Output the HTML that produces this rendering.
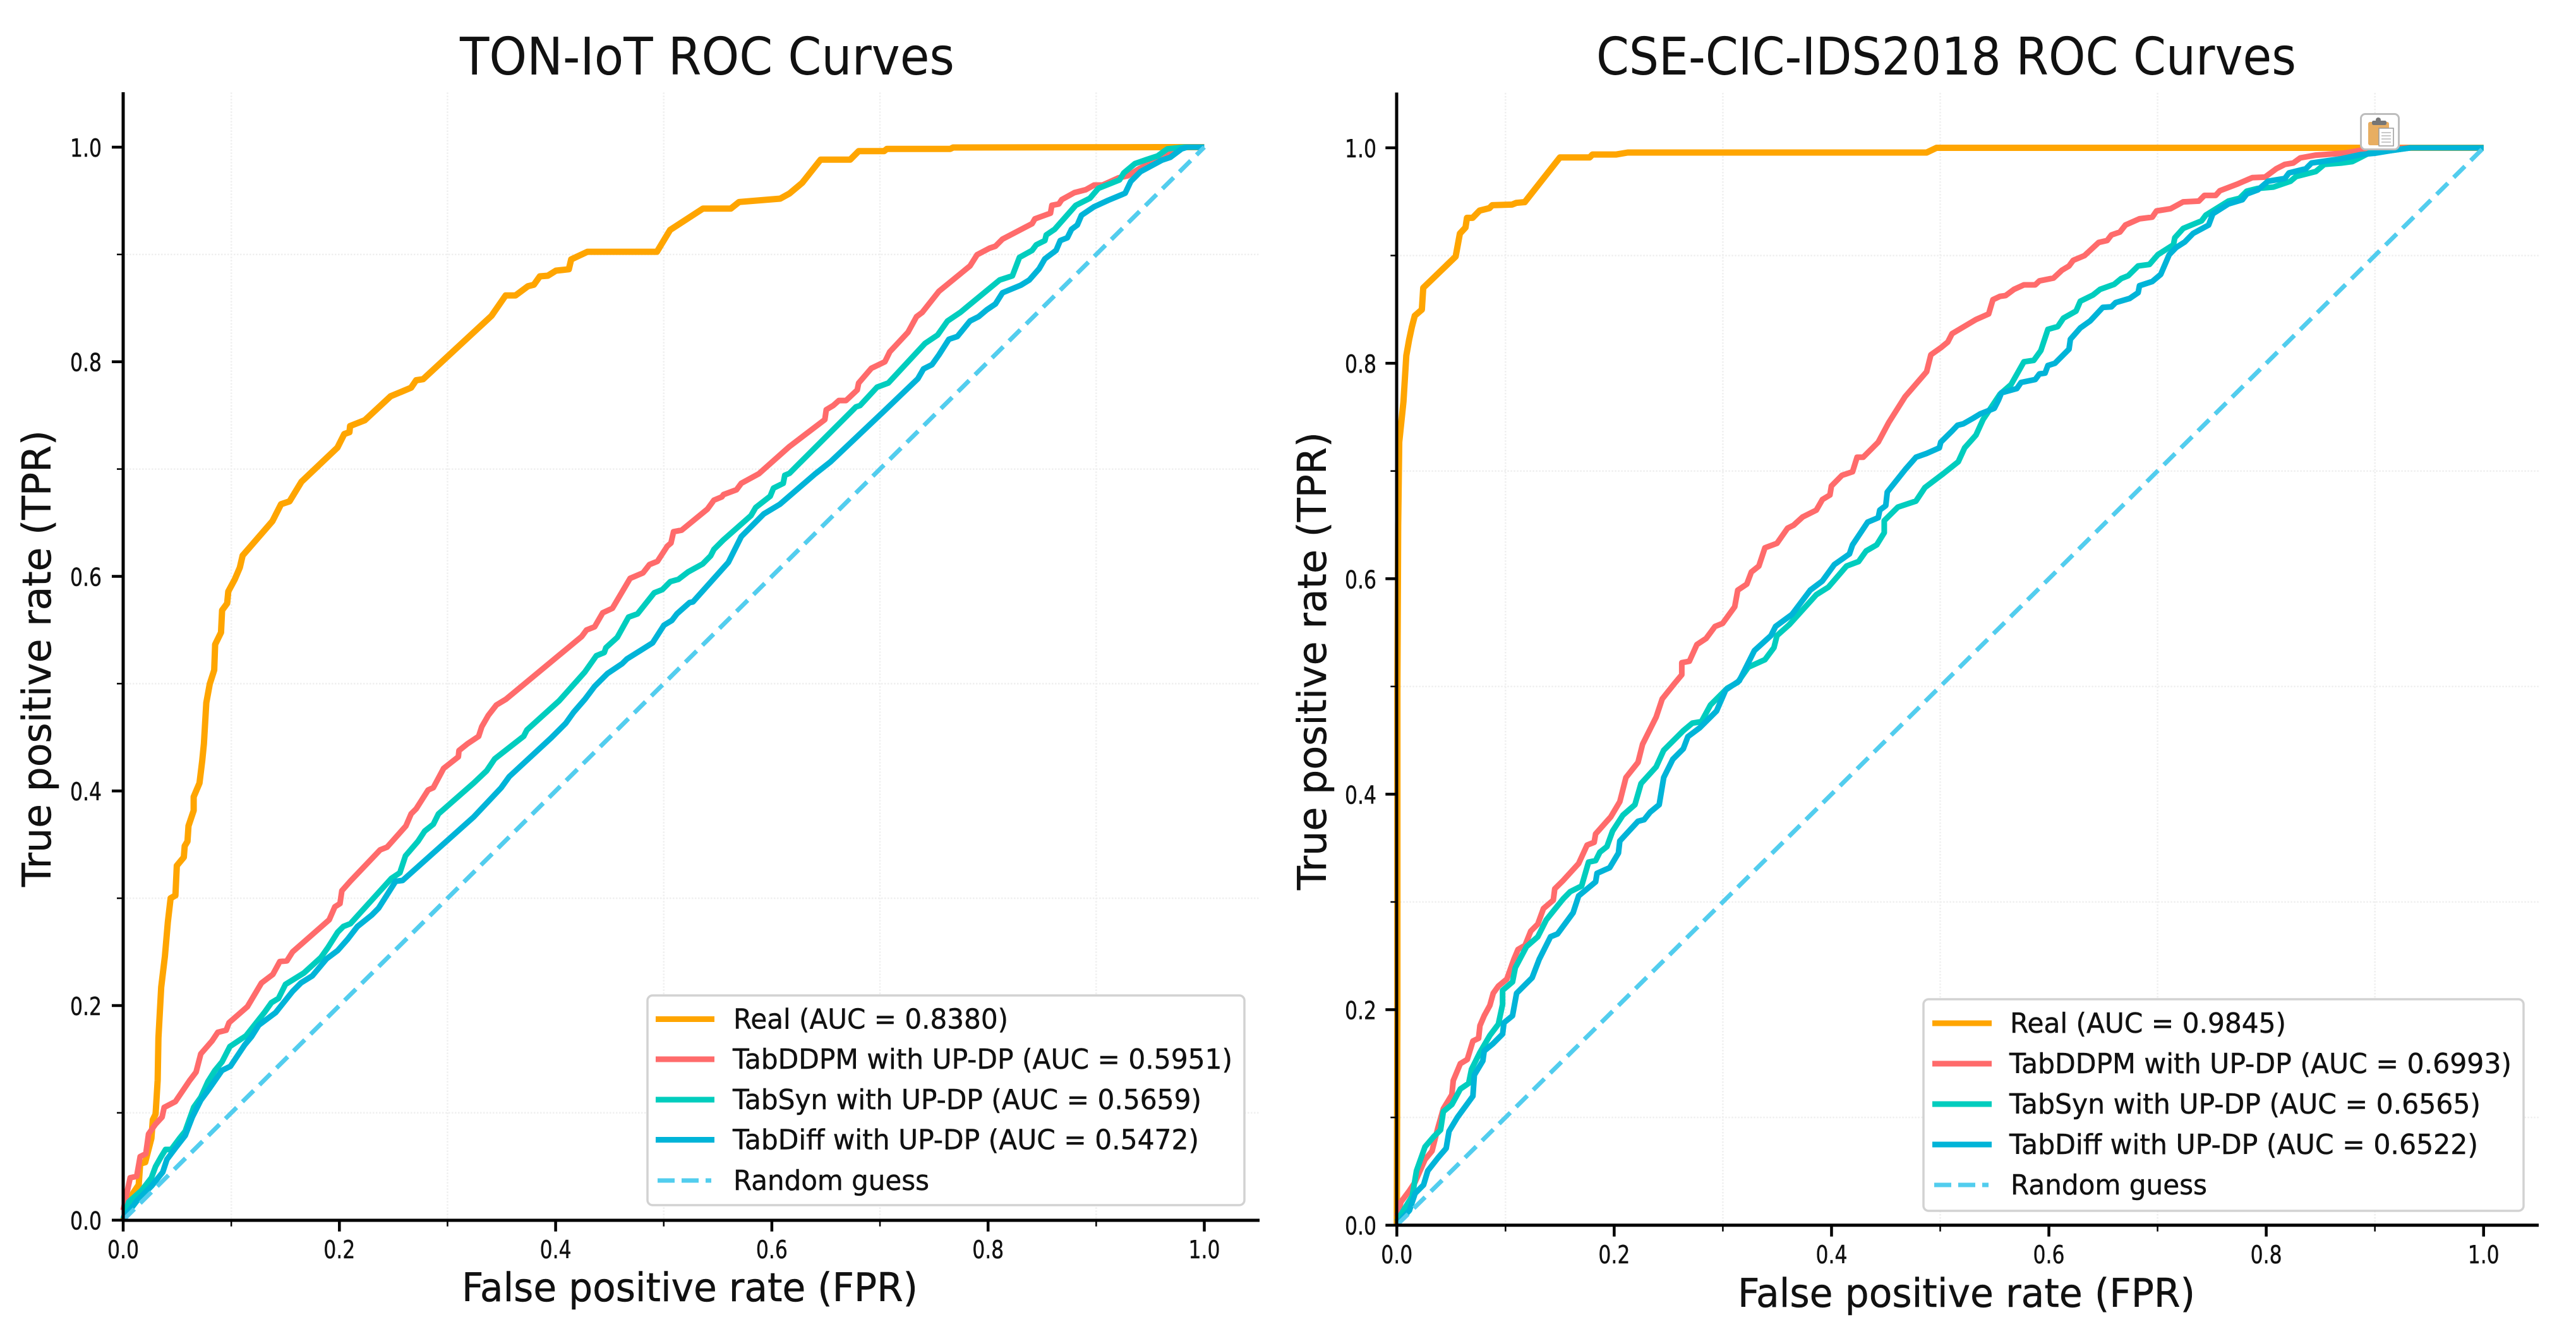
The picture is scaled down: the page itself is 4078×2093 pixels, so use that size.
<!DOCTYPE html>
<html lang="en">
<head>
<meta charset="utf-8">
<title>ROC Curves</title>
<style>
html,body{margin:0;padding:0;background:#fff;width:4078px;height:2093px;overflow:hidden}
svg{display:block}
text{font-family:"DejaVu Sans","Liberation Sans",sans-serif;fill:#111}
.title{font-size:82px}
.axis-label{font-size:62px;stroke:#111;stroke-width:.5px}
.tick-label{font-size:39px;stroke:#111;stroke-width:.5px}
.legend-text{font-size:44px;stroke:#111;stroke-width:.5px}
</style>
</head>
<body>
<svg id="chart" xmlns="http://www.w3.org/2000/svg" width="4078" height="2093" viewBox="0 0 4078 2093">
  <rect width="4078" height="2093" fill="#fff"/>

  <g id="ton-panel">
    <g id="ton-grid"></g>
    <g id="ton-curves"></g>
    <g id="ton-ticks"></g>
    <line x1="195" y1="146" x2="195" y2="1934" stroke="#000" stroke-width="5"/>
    <line x1="193" y1="1932" x2="1994" y2="1932" stroke="#000" stroke-width="5"/>
    <text class="title" x="728" y="118" textLength="783" lengthAdjust="spacingAndGlyphs">TON-IoT ROC Curves</text>
    <text class="axis-label" x="731" y="2060" textLength="722" lengthAdjust="spacingAndGlyphs">False positive rate (FPR)</text>
    <text class="axis-label" transform="translate(80 1404) rotate(-90)" x="0" y="0" textLength="723" lengthAdjust="spacingAndGlyphs">True positive rate (TPR)</text>
    <g>
      <rect x="1025" y="1576" width="945" height="332" rx="8" ry="8" fill="#fff" stroke="#d2d2d2" stroke-width="3.5"/>
      <g>
        <line x1="1038" y1="1613.5" x2="1131" y2="1613.5" stroke="#FFA500" stroke-width="9"/>
        <text class="legend-text" x="1161" y="1628.5" textLength="435" lengthAdjust="spacingAndGlyphs">Real (AUC = 0.8380)</text>
      </g>
      <g>
        <line x1="1038" y1="1677" x2="1131" y2="1677" stroke="#FF6B6B" stroke-width="9"/>
        <text class="legend-text" x="1160" y="1692" textLength="791" lengthAdjust="spacingAndGlyphs">TabDDPM with UP-DP (AUC = 0.5951)</text>
      </g>
      <g>
        <line x1="1038" y1="1741" x2="1131" y2="1741" stroke="#00CDBE" stroke-width="9"/>
        <text class="legend-text" x="1160" y="1756" textLength="742" lengthAdjust="spacingAndGlyphs">TabSyn with UP-DP (AUC = 0.5659)</text>
      </g>
      <g>
        <line x1="1038" y1="1804.5" x2="1131" y2="1804.5" stroke="#00B4D8" stroke-width="9"/>
        <text class="legend-text" x="1160" y="1819.5" textLength="738" lengthAdjust="spacingAndGlyphs">TabDiff with UP-DP (AUC = 0.5472)</text>
      </g>
      <g>
        <line x1="1041" y1="1869" x2="1126" y2="1869" stroke="#52CDEE" stroke-width="7" stroke-dasharray="27 11"/>
        <text class="legend-text" x="1161" y="1884" textLength="310" lengthAdjust="spacingAndGlyphs">Random guess</text>
      </g>
    </g>
  </g>

  <g id="cse-panel">
    <g id="cse-grid"></g>
    <g id="cse-curves"></g>
    <g id="cse-ticks"></g>
    <line x1="2211" y1="146.5" x2="2211" y2="1942" stroke="#000" stroke-width="5"/>
    <line x1="2209" y1="1939.7" x2="4019" y2="1939.7" stroke="#000" stroke-width="5"/>
    <text class="title" x="2527" y="118" textLength="1108" lengthAdjust="spacingAndGlyphs">CSE-CIC-IDS2018 ROC Curves</text>
    <text class="axis-label" x="2751" y="2069" textLength="724" lengthAdjust="spacingAndGlyphs">False positive rate (FPR)</text>
    <text class="axis-label" transform="translate(2099 1409) rotate(-90)" x="0" y="0" textLength="725" lengthAdjust="spacingAndGlyphs">True positive rate (TPR)</text>
    <g>
      <rect x="3045" y="1582" width="950" height="335" rx="8" ry="8" fill="#fff" stroke="#d2d2d2" stroke-width="3.5"/>
      <g>
        <line x1="3059" y1="1620" x2="3153" y2="1620" stroke="#FFA500" stroke-width="9"/>
        <text class="legend-text" x="3182" y="1635" textLength="437" lengthAdjust="spacingAndGlyphs">Real (AUC = 0.9845)</text>
      </g>
      <g>
        <line x1="3059" y1="1684" x2="3153" y2="1684" stroke="#FF6B6B" stroke-width="9"/>
        <text class="legend-text" x="3181" y="1699" textLength="795" lengthAdjust="spacingAndGlyphs">TabDDPM with UP-DP (AUC = 0.6993)</text>
      </g>
      <g>
        <line x1="3059" y1="1748" x2="3153" y2="1748" stroke="#00CDBE" stroke-width="9"/>
        <text class="legend-text" x="3181" y="1763" textLength="746" lengthAdjust="spacingAndGlyphs">TabSyn with UP-DP (AUC = 0.6565)</text>
      </g>
      <g>
        <line x1="3059" y1="1812" x2="3153" y2="1812" stroke="#00B4D8" stroke-width="9"/>
        <text class="legend-text" x="3181" y="1827" textLength="742" lengthAdjust="spacingAndGlyphs">TabDiff with UP-DP (AUC = 0.6522)</text>
      </g>
      <g>
        <line x1="3062" y1="1876" x2="3148" y2="1876" stroke="#52CDEE" stroke-width="7" stroke-dasharray="27 11"/>
        <text class="legend-text" x="3183" y="1891" textLength="311" lengthAdjust="spacingAndGlyphs">Random guess</text>
      </g>
    </g>
  </g>

  <g>
    <rect x="3737.5" y="180.5" width="60" height="56" rx="7" ry="7" fill="#fff" stroke="#bdbdbd" stroke-width="3"/>
    <rect x="3749" y="193" width="33" height="37" rx="3" fill="#E8AE62"/>
    <rect x="3755" y="191" width="23" height="7" rx="2.5" fill="#767676"/>
    <circle cx="3765" cy="190" r="4" fill="#767676"/>
    <rect x="3766" y="203" width="23" height="28" fill="#fff" stroke="#9a9a9a" stroke-width="1.5"/>
    <line x1="3770" y1="210" x2="3785" y2="210" stroke="#b5b5b5" stroke-width="1.5"/>
    <line x1="3770" y1="215" x2="3785" y2="215" stroke="#b5b5b5" stroke-width="1.5"/>
    <line x1="3770" y1="220" x2="3785" y2="220" stroke="#b5b5b5" stroke-width="1.5"/>
    <line x1="3770" y1="225" x2="3785" y2="225" stroke="#b5b5b5" stroke-width="1.5"/>
  </g>
</svg>

<script>
const majorTicks = [0, 0.2, 0.4, 0.6, 0.8, 1.0];
const majorTickLabels = ['0.0', '0.2', '0.4', '0.6', '0.8', '1.0'];
const minorTicks = [0.1, 0.3, 0.5, 0.7, 0.9];
const axisLimit = 1.051;

const tonReal = [[0,0],[.0091,.025],[.0144,.0329],[.0157,.0526],[.0204,.0539],[.0261,.0763],[.0274,.0934],[.03,.0987],[.0319,.1303],[.0326,.1697],[.0352,.2171],[.0386,.2461],[.0413,.2776],[.0439,.3],[.0483,.3026],[.0496,.3303],[.0561,.3382],[.0569,.3487],[.0595,.353],[.0604,.3674],[.0652,.3817],[.0652,.3945],[.0706,.4073],[.0731,.428],[.0747,.444],[.0769,.4822],[.0801,.4998],[.0842,.5126],[.0851,.5365],[.0905,.5477],[.0915,.5684],[.0962,.5748],[.0972,.5859],[.1032,.5971],[.1079,.6083],[.1105,.6194],[.138,.6514],[.146,.6673],[.1539,.6699],[.1649,.6881],[.1982,.72],[.2045,.7327],[.2093,.7343],[.2099,.7401],[.2235,.7455],[.2473,.7678],[.2663,.7758],[.271,.7828],[.2774,.7838],[.3407,.8428],[.3537,.8618],[.3629,.8618],[.3743,.8704],[.3799,.8718],[.3854,.8796],[.3928,.8802],[.4003,.8849],[.4122,.8862],[.4144,.8954],[.4294,.9025],[.4937,.9025],[.5059,.9228],[.5363,.9428],[.5621,.9428],[.5697,.9489],[.6077,.952],[.6164,.9569],[.6281,.9668],[.6451,.9884],[.6725,.9884],[.6803,.9963],[.7038,.9963],[.7064,.9984],[.7651,.9984],[.7677,.9997],[.958,1],[1,1]];

const tonTabDDPM = [[0,.0092],[.0065,.0395],[.0125,.0408],[.0157,.0592],[.0209,.0618],[.0235,.0803],[.03,.0895],[.036,.096],[.0379,.105],[.0483,.1105],[.0614,.13],[.0674,.138],[.0718,.155],[.0822,.167],[.0875,.175],[.0953,.177],[.0979,.184],[.1149,.199],[.1279,.221],[.1384,.229],[.1449,.241],[.1514,.2416],[.1567,.25],[.1906,.28],[.1958,.292],[.2005,.295],[.2023,.307],[.2102,.316],[.2376,.345],[.2441,.3476],[.2615,.3674],[.2663,.3786],[.271,.3833],[.2821,.4009],[.2869,.4031],[.2964,.421],[.31,.4318],[.3106,.4376],[.3185,.444],[.3288,.4509],[.3317,.4599],[.3377,.4704],[.3452,.4801],[.3541,.4855],[.4242,.544],[.4286,.55],[.4361,.553],[.4435,.566],[.4525,.5702],[.4689,.5981],[.4808,.6032],[.4868,.611],[.4942,.614],[.5032,.628],[.5067,.6311],[.5091,.6416],[.5166,.6431],[.5404,.6627],[.5464,.671],[.5538,.6741],[.5553,.6762],[.5673,.6807],[.5717,.6867],[.5881,.6957],[.6164,.7211],[.649,.7461],[.6503,.7553],[.6568,.7592],[.662,.7639],[.6686,.7639],[.679,.7737],[.6803,.7802],[.692,.7939],[.7046,.8],[.709,.8092],[.726,.8276],[.7338,.842],[.739,.8459],[.7546,.8657],[.7833,.8893],[.7899,.8998],[.8016,.9059],[.8068,.9077],[.8133,.9143],[.8407,.9287],[.8433,.9332],[.8577,.9385],[.859,.9458],[.8655,.9471],[.8681,.9511],[.8798,.9576],[.8903,.9603],[.8981,.9647],[.9059,.9647],[.9203,.9713],[.9294,.9734],[.9398,.98],[.9659,.9931],[.9816,1],[1,1]];

const tonTabSyn = [[0,.0013],[.0052,.0171],[.017,.0276],[.0261,.0395],[.03,.05],[.0352,.0592],[.0392,.0658],[.0444,.0658],[.0522,.0763],[.0574,.0829],[.0653,.1053],[.0718,.1145],[.0783,.1289],[.0849,.1395],[.0914,.1474],[.0987,.1618],[.1136,.1718],[.1305,.1934],[.1371,.2026],[.1436,.2066],[.1501,.2197],[.1671,.2303],[.1828,.2447],[.1893,.2539],[.1984,.2684],[.2037,.2737],[.2102,.2763],[.248,.3184],[.2559,.3237],[.2611,.3395],[.2726,.353],[.2789,.3626],[.2869,.369],[.2916,.3786],[.3243,.4074],[.3362,.4188],[.3437,.4299],[.3705,.451],[.3735,.4569],[.4033,.484],[.4271,.511],[.4376,.526],[.445,.529],[.4465,.5335],[.457,.5431],[.4674,.562],[.4757,.565],[.4912,.5846],[.4987,.5876],[.5061,.5951],[.5136,.5972],[.5225,.6041],[.536,.6116],[.5434,.6191],[.5464,.6251],[.5553,.6341],[.5807,.6567],[.5851,.6642],[.5985,.6747],[.6015,.6822],[.6105,.6867],[.612,.6942],[.6164,.6961],[.6255,.7053],[.666,.7461],[.6777,.7579],[.6816,.7592],[.6973,.7763],[.7077,.7802],[.7416,.817],[.7533,.8249],[.7625,.838],[.7742,.8459],[.8107,.8762],[.8225,.8801],[.829,.8972],[.8407,.9038],[.8446,.909],[.8525,.913],[.8538,.9182],[.8616,.9235],[.8811,.9458],[.8942,.9524],[.902,.9616],[.9216,.9695],[.9255,.976],[.9359,.9847],[.9464,.9884],[.9568,.9918],[.9659,.9984],[.9816,1],[1,1]];

const tonTabDiff = [[0,.0013],[.0131,.0184],[.0261,.0316],[.0366,.0447],[.0405,.0566],[.0483,.0671],[.0574,.0789],[.064,.0961],[.0718,.1118],[.0796,.1224],[.0914,.1395],[.0992,.1434],[.1123,.1632],[.1188,.1711],[.1253,.1816],[.141,.1934],[.1567,.2132],[.1645,.2211],[.1749,.2276],[.188,.2434],[.1984,.2513],[.2076,.2618],[.2167,.2737],[.2298,.2842],[.2363,.2908],[.252,.3158],[.2585,.3166],[.3243,.3758],[.3496,.4029],[.3571,.4134],[.3958,.4494],[.4093,.463],[.4167,.4734],[.4271,.4855],[.4361,.4975],[.448,.5095],[.4614,.5185],[.4659,.523],[.4897,.538],[.5002,.5545],[.5076,.559],[.5121,.565],[.524,.5756],[.527,.5762],[.5598,.6131],[.5717,.6371],[.5866,.6522],[.5926,.6582],[.6075,.6672],[.6403,.6957],[.6542,.7067],[.7051,.7553],[.735,.7842],[.7403,.7934],[.7481,.7973],[.7546,.8065],[.7638,.821],[.7716,.8236],[.7833,.838],[.7912,.842],[.799,.8486],[.8068,.8538],[.8133,.8643],[.8303,.8714],[.8381,.8762],[.8472,.8867],[.8525,.8959],[.8629,.9038],[.8668,.913],[.8733,.9156],[.8772,.9235],[.8825,.9274],[.8864,.9366],[.8981,.9445],[.9111,.9505],[.9268,.9571],[.932,.9681],[.9411,.9773],[.9607,.9879],[.9685,.9905],[.979,.9984],[.9842,1],[1,1]];

const tonRandom = [[0,0],[1,1]];

const cseReal = [[0,0],[.0005,.2],[.0005,.5],[.0012,.65],[.0022,.7268],[.0061,.7645],[.0087,.8071],[.0113,.8217],[.0139,.834],[.0165,.8441],[.023,.8498],[.0243,.87],[.0541,.8991],[.058,.9204],[.0632,.926],[.0645,.935],[.0697,.935],[.0762,.9417],[.0852,.944],[.0878,.9467],[.106,.9473],[.1099,.9489],[.1177,.9496],[.1501,.9911],[.1774,.9911],[.18,.9938],[.202,.9938],[.2124,.9956],[.4875,.9956],[.4966,1],[1,1]];

const cseTabDDPM = [[0,.0086],[.0039,.0217],[.0116,.0321],[.0168,.04],[.0259,.0609],[.0324,.0688],[.0376,.0897],[.0428,.108],[.0506,.1211],[.0519,.1342],[.0584,.1499],[.0648,.1538],[.07,.1709],[.0752,.1735],[.0765,.1852],[.0804,.1944],[.0856,.204],[.0887,.2153],[.0934,.2219],[.1012,.2284],[.1077,.2468],[.1115,.2559],[.118,.2598],[.1232,.2729],[.1297,.2795],[.1349,.2939],[.144,.3017],[.1453,.3122],[.1531,.32],[.1673,.3357],[.1751,.3528],[.1816,.3554],[.1829,.3632],[.1969,.379],[.2052,.3931],[.2108,.4155],[.2219,.4296],[.2261,.4464],[.2386,.4716],[.2442,.4884],[.2553,.5025],[.2622,.5109],[.2622,.5221],[.2692,.5235],[.2761,.5389],[.2845,.5445],[.2928,.5557],[.2998,.5586],[.3109,.574],[.3137,.5894],[.322,.595],[.3262,.6062],[.3331,.6118],[.3387,.6287],[.3498,.6329],[.3595,.6469],[.3651,.6497],[.3734,.6573],[.386,.6637],[.3916,.6735],[.3985,.6777],[.3999,.6861],[.4096,.696],[.4193,.6993],[.4235,.7128],[.4291,.7128],[.443,.7268],[.4526,.745],[.4677,.769],[.4875,.7922],[.4914,.8079],[.5005,.8144],[.507,.8197],[.5109,.8275],[.5264,.8367],[.5329,.8406],[.5446,.8458],[.5485,.859],[.555,.8621],[.5602,.8629],[.5679,.8686],[.577,.8728],[.5874,.8728],[.5913,.8765],[.6043,.8791],[.612,.8864],[.6185,.8903],[.6224,.8956],[.6328,.9],[.6458,.9121],[.6536,.914],[.6575,.9191],[.6653,.9218],[.6704,.9283],[.6834,.9341],[.6951,.9356],[.699,.9414],[.712,.9435],[.7236,.9498],[.7379,.9505],[.7431,.9558],[.7535,.9558],[.7574,.9602],[.773,.9662],[.7872,.9723],[.7989,.9728],[.8093,.9806],[.8171,.9846],[.8248,.9859],[.8313,.9906],[.8456,.9932],[.8715,.995],[.8871,.9977],[.8944,.999],[.915,.9995],[.93,1],[1,1]];

const cseTabSyn = [[0,.0034],[.0077,.0164],[.0142,.0269],[.0181,.0505],[.0259,.0727],[.0337,.0819],[.0402,.0884],[.0428,.1054],[.0506,.112],[.0584,.1264],[.0661,.1316],[.0687,.1447],[.0765,.1604],[.0856,.1761],[.0934,.1866],[.0973,.2049],[.0973,.218],[.1064,.2258],[.109,.2389],[.1193,.2585],[.1297,.2677],[.1375,.2834],[.1531,.303],[.1596,.3096],[.17,.3148],[.1764,.337],[.1829,.3384],[.1868,.3462],[.1933,.3514],[.1985,.3658],[.208,.3805],[.2191,.3903],[.2247,.4099],[.2386,.4254],[.2456,.4408],[.2636,.459],[.272,.466],[.2803,.4674],[.2886,.4828],[.304,.4983],[.3137,.5039],[.3234,.5179],[.3387,.5249],[.347,.5361],[.3498,.5473],[.3609,.5572],[.386,.5852],[.3971,.5922],[.4138,.6118],[.4249,.616],[.4318,.6258],[.4416,.6315],[.4485,.6427],[.4485,.6539],[.461,.6665],[.4777,.6721],[.486,.6847],[.5027,.6974],[.5166,.7086],[.5225,.7215],[.5329,.7333],[.5394,.7477],[.555,.7713],[.5653,.7804],[.577,.8014],[.5861,.8027],[.5926,.8118],[.5991,.8315],[.6082,.8341],[.6134,.8419],[.625,.8485],[.6289,.8576],[.6406,.8634],[.6471,.8686],[.6601,.8733],[.6665,.8786],[.673,.8812],[.6821,.8903],[.6925,.8917],[.7003,.9008],[.7146,.91],[.7159,.9165],[.7236,.9252],[.7405,.9322],[.7444,.9375],[.7651,.9505],[.7755,.9532],[.782,.9597],[.7924,.9623],[.8067,.9636],[.8222,.9689],[.8274,.9733],[.8456,.978],[.8534,.9846],[.8689,.9859],[.8793,.9872],[.8944,.995],[.915,.9975],[.933,1],[1,1]];

const cseTabDiff = [[0,.0007],[.0116,.0138],[.0168,.0295],[.0246,.0374],[.0285,.0505],[.0376,.0622],[.0454,.0714],[.048,.0871],[.0558,.1002],[.07,.1198],[.0713,.1394],[.0791,.1525],[.0804,.1617],[.0882,.1682],[.0973,.1774],[.0986,.1879],[.1064,.1944],[.1102,.2153],[.1245,.2297],[.131,.2468],[.1362,.2572],[.1414,.2677],[.1479,.2703],[.1622,.2899],[.1673,.3056],[.1829,.3187],[.1842,.3266],[.1959,.3318],[.2039,.3454],[.2052,.3566],[.2219,.3749],[.2275,.3763],[.233,.3833],[.2414,.3903],[.2456,.4155],[.2539,.4324],[.2636,.4422],[.2678,.4534],[.2789,.4618],[.2942,.4772],[.3026,.4968],[.3151,.5053],[.329,.5333],[.3443,.5473],[.3485,.5557],[.3637,.567],[.3804,.5894],[.3915,.5978],[.4026,.6132],[.4165,.623],[.4193,.6315],[.4332,.6525],[.443,.6567],[.4444,.6637],[.4499,.6679],[.4513,.6805],[.468,.7016],[.4777,.7128],[.4875,.7163],[.4992,.7215],[.5005,.7268],[.5109,.7372],[.516,.7425],[.5212,.7438],[.5303,.749],[.5368,.753],[.5498,.7582],[.5537,.766],[.5563,.7726],[.5705,.7765],[.5744,.7822],[.5874,.7849],[.5913,.7901],[.5965,.7909],[.5991,.7979],[.6056,.8],[.6185,.8131],[.6198,.8223],[.6289,.8328],[.638,.8393],[.6497,.8519],[.6575,.8524],[.6614,.8563],[.6743,.8602],[.6821,.8655],[.6834,.872],[.6951,.8759],[.7029,.8825],[.7107,.9008],[.7171,.9074],[.725,.9126],[.7327,.9205],[.747,.9283],[.7509,.9388],[.7651,.9479],[.7781,.9518],[.782,.9571],[.7924,.961],[.8015,.9689],[.8171,.9715],[.821,.9767],[.8365,.9806],[.8417,.9859],[.8689,.9898],[.8871,.9937],[.9,.995],[.915,.9975],[.933,1],[1,1]];

const cseRandom = [[0,0],[1,1]];

const SVG_NS = 'http://www.w3.org/2000/svg';

function tonX(v) { return 195 + 1711.5 * v; }
function tonY(v) { return 1931.7 - 1698.7 * v; }
function cseX(v) { return 2211.3 + 1720.4 * v; }
function cseY(v) { return 1939.7 - 1705.7 * v; }

function drawGrid(prefix, xScale, yScale) {
  const group = document.getElementById(prefix + '-grid');
  minorTicks.forEach(function (t) {
    const v = document.createElementNS(SVG_NS, 'line');
    
    
    v.setAttribute('x1', xScale(t));
    v.setAttribute('x2', xScale(t));
    v.setAttribute('y1', yScale(axisLimit));
    v.setAttribute('y2', yScale(0));
    v.setAttribute('stroke', '#efefef');
    v.setAttribute('stroke-width', '2.5');
    v.setAttribute('stroke-dasharray', '2.5 2.5');
    group.appendChild(v);
    const h = document.createElementNS(SVG_NS, 'line');
    
    
    h.setAttribute('x1', xScale(0));
    h.setAttribute('x2', xScale(axisLimit));
    h.setAttribute('y1', yScale(t));
    h.setAttribute('y2', yScale(t));
    h.setAttribute('stroke', '#efefef');
    h.setAttribute('stroke-width', '2.5');
    h.setAttribute('stroke-dasharray', '2.5 2.5');
    group.appendChild(h);
  });
}

function drawCurve(prefix, name, points, color, width, dash, xScale, yScale) {
  const group = document.getElementById(prefix + '-curves');
  const d = points.map(function (p, i) {
    return (i ? 'L' : 'M') + xScale(p[0]).toFixed(1) + ' ' + yScale(p[1]).toFixed(1);
  }).join('');
  const path = document.createElementNS(SVG_NS, 'path');
  
  
  path.setAttribute('d', d);
  path.setAttribute('fill', 'none');
  path.setAttribute('stroke', color);
  path.setAttribute('stroke-width', width);
  path.setAttribute('stroke-linejoin', 'round');
  if (dash) path.setAttribute('stroke-dasharray', dash);
  group.appendChild(path);
}

function drawTicks(prefix, xScale, yScale, xLabelBaseline, yLabelRight) {
  const group = document.getElementById(prefix + '-ticks');
  const x0 = xScale(0);
  const y0 = yScale(0);
  minorTicks.forEach(function (t) {
    const mx = document.createElementNS(SVG_NS, 'line');
    
    
    mx.setAttribute('x1', xScale(t));
    mx.setAttribute('x2', xScale(t));
    mx.setAttribute('y1', y0);
    mx.setAttribute('y2', y0 + 10);
    mx.setAttribute('stroke', '#000');
    mx.setAttribute('stroke-width', '2.5');
    group.appendChild(mx);
    const my = document.createElementNS(SVG_NS, 'line');
    
    
    my.setAttribute('x1', x0 - 10);
    my.setAttribute('x2', x0);
    my.setAttribute('y1', yScale(t));
    my.setAttribute('y2', yScale(t));
    my.setAttribute('stroke', '#000');
    my.setAttribute('stroke-width', '2.5');
    group.appendChild(my);
  });
  majorTicks.forEach(function (t, i) {
    const tx = document.createElementNS(SVG_NS, 'line');
    
    
    tx.setAttribute('x1', xScale(t));
    tx.setAttribute('x2', xScale(t));
    tx.setAttribute('y1', y0);
    tx.setAttribute('y2', y0 + 18);
    tx.setAttribute('stroke', '#000');
    tx.setAttribute('stroke-width', '4.5');
    group.appendChild(tx);
    const ty = document.createElementNS(SVG_NS, 'line');
    
    
    ty.setAttribute('x1', x0 - 18);
    ty.setAttribute('x2', x0);
    ty.setAttribute('y1', yScale(t));
    ty.setAttribute('y2', yScale(t));
    ty.setAttribute('stroke', '#000');
    ty.setAttribute('stroke-width', '4.5');
    group.appendChild(ty);
    const lx = document.createElementNS(SVG_NS, 'text');
    
    
    lx.setAttribute('class', 'tick-label');
    lx.setAttribute('x', xScale(t) - 25);
    lx.setAttribute('y', xLabelBaseline);
    lx.setAttribute('textLength', '50');
    lx.setAttribute('lengthAdjust', 'spacingAndGlyphs');
    lx.textContent = majorTickLabels[i];
    group.appendChild(lx);
    const ly = document.createElementNS(SVG_NS, 'text');
    
    
    ly.setAttribute('class', 'tick-label');
    ly.setAttribute('x', yLabelRight - 50);
    ly.setAttribute('y', yScale(t) + 15);
    ly.setAttribute('textLength', '50');
    ly.setAttribute('lengthAdjust', 'spacingAndGlyphs');
    ly.textContent = majorTickLabels[i];
    group.appendChild(ly);
  });
}

drawGrid('ton', tonX, tonY);
drawCurve('ton', 'real', tonReal, '#FFA500', 10, null, tonX, tonY);
drawCurve('ton', 'tabddpm', tonTabDDPM, '#FF6B6B', 9, null, tonX, tonY);
drawCurve('ton', 'tabsyn', tonTabSyn, '#00CDBE', 9, null, tonX, tonY);
drawCurve('ton', 'tabdiff', tonTabDiff, '#00B4D8', 9, null, tonX, tonY);
drawCurve('ton', 'random-guess', tonRandom, '#52CDEE', 7, '25 13', tonX, tonY);
drawTicks('ton', tonX, tonY, 1992, 161);

drawGrid('cse', cseX, cseY);
drawCurve('cse', 'real', cseReal, '#FFA500', 10, null, cseX, cseY);
drawCurve('cse', 'tabddpm', cseTabDDPM, '#FF6B6B', 9, null, cseX, cseY);
drawCurve('cse', 'tabsyn', cseTabSyn, '#00CDBE', 9, null, cseX, cseY);
drawCurve('cse', 'tabdiff', cseTabDiff, '#00B4D8', 9, null, cseX, cseY);
drawCurve('cse', 'random-guess', cseRandom, '#52CDEE', 7, '25 13', cseX, cseY);
drawTicks('cse', cseX, cseY, 2000, 2179);
</script>
</body>
</html>
